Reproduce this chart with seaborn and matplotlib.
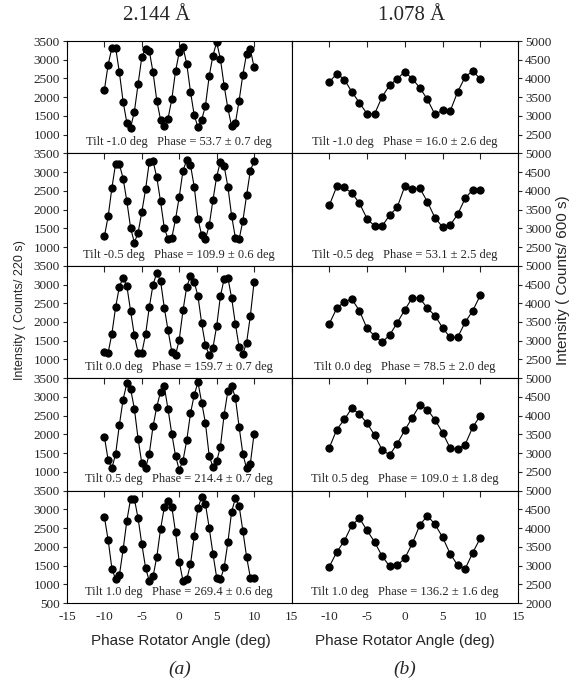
"""Phase rotator scans at five tilts for the 2.144 A and 1.078 A reflections."""
import matplotlib
matplotlib.use("Agg")
import matplotlib.pyplot as plt
import pandas as pd
import seaborn as sns

# rotator angles (deg)
ANGLES_A = [-10.0, -9.5, -9.0, -8.5, -8.0, -7.5, -7.0, -6.5, -6.0, -5.5, -5.0,
            -4.5, -4.0, -3.5, -3.0, -2.5, -2.0, -1.5, -1.0, -0.5, 0.0,
            0.5, 1.0, 1.5, 2.0, 2.5, 3.0, 3.5, 4.0, 4.5, 5.0,
            5.5, 6.0, 6.5, 7.0, 7.5, 8.0, 8.5, 9.0, 9.5, 10.0]
ANGLES_B = [-10, -9, -8, -7, -6, -5, -4, -3, -2, -1, 0,
            1, 2, 3, 4, 5, 6, 7, 8, 9, 10]

# (a) 2.144 A, counts / 220 s
A_TILT_M10 = [2200, 2870, 3320, 3320, 2660, 1880, 1315, 1190, 1610, 2350, 3080,
              3290, 3230, 2660, 1910, 1400, 1230, 1430, 1940, 2690, 3200,
              3340, 2890, 2150, 1520, 1200, 1400, 1770, 2560, 3110, 3470,
              3020, 2300, 1700, 1225, 1310, 1910, 2600, 3160, 3280, 2800]
A_TILT_M05 = [1290, 1820, 2580, 3230, 3210, 2830, 2220, 1510, 1120, 1380, 1940,
              2540, 3280, 3290, 2860, 2220, 1510, 1220, 1240, 1740, 2340,
              3040, 3320, 3190, 2610, 1760, 1310, 1210, 1580, 2250, 2880,
              3280, 3160, 2610, 1830, 1250, 1210, 1700, 2380, 3040, 3290]
A_TILT_000 = [1210, 1180, 1690, 2400, 2940, 3180, 2960, 2290, 1640, 1180, 1180,
              1670, 2400, 3000, 3310, 3100, 2380, 1780, 1210, 1110, 1530,
              2310, 2940, 3220, 3070, 2690, 1960, 1380, 1120, 1310, 1890,
              2690, 3150, 3180, 2640, 1950, 1330, 1150, 1450, 2160, 3070]
A_TILT_P05 = [1930, 1315, 1100, 1480, 2260, 2930, 3370, 3210, 2690, 1880, 1225,
              1090, 1490, 2220, 2740, 3140, 3280, 2670, 2020, 1430, 1050,
              1300, 1840, 2560, 3050, 3390, 2850, 2300, 1430, 1130, 1280,
              1670, 2530, 3160, 3290, 2980, 2200, 1480, 1090, 1220, 2020]
A_TILT_P10 = [2790, 2180, 1420, 1130, 1240, 1930, 2700, 3280, 3280, 2760, 2070,
              1440, 1080, 1210, 1730, 2470, 3050, 3230, 3070, 2400, 1600,
              1090, 1130, 1530, 2290, 3040, 3320, 3140, 2510, 1820, 1180,
              1130, 1450, 2120, 2940, 3290, 3090, 2430, 1730, 1180, 1170]

# (b) 1.078 A, counts / 600 s
B_TILT_M10 = [3900, 4130, 3970, 3640, 3350, 3060, 3050, 3510, 3820, 3990, 4180,
              3990, 3750, 3440, 3040, 3150, 3120, 3640, 4040, 4200, 3990]
B_TILT_M05 = [3610, 4120, 4090, 3940, 3670, 3260, 3060, 3060, 3350, 3560, 4120,
              4050, 4070, 3710, 3280, 3040, 3080, 3370, 3800, 4030, 4030]
B_TILT_000 = [3450, 3870, 4040, 4110, 3800, 3330, 3130, 2960, 3150, 3480, 3820,
              4150, 4130, 3870, 3670, 3350, 3090, 3090, 3490, 3800, 4210]
B_TILT_P05 = [3140, 3630, 3900, 4200, 4040, 3800, 3480, 3090, 2950, 3250, 3610,
              3950, 4280, 4160, 3890, 3550, 3140, 3100, 3230, 3690, 4000]
B_TILT_P10 = [2970, 3360, 3660, 4080, 4260, 3940, 3630, 3250, 2980, 3010, 3190,
              3590, 4080, 4330, 4100, 3760, 3320, 3010, 2910, 3340, 3730]

TILTS = ["-1.0", "-0.5", "0.0", "0.5", "1.0"]
PHASE_A = ["53.7 ± 0.7", "109.9 ± 0.6", "159.7 ± 0.7", "214.4 ± 0.7", "269.4 ± 0.6"]
PHASE_B = ["16.0 ± 2.6", "53.1 ± 2.5", "78.5 ± 2.0", "109.0 ± 1.8", "136.2 ± 1.6"]

X_TICKS = [-15, -10, -5, 0, 5, 10, 15]
X_LABELS_A = ["-15", "-10", "-5", "0", "5", "10", "15"]
# right column's -15 sits under the left column's 15, so it is left blank
X_LABELS_B = ["", "-10", "-5", "0", "5", "10", "15"]

SERIF = "Liberation Serif"
SANS = "Liberation Sans"

sns.set_style("ticks")
plt.rcParams["font.family"] = [SERIF, "DejaVu Serif"]
plt.rcParams["axes.unicode_minus"] = False
plt.rcParams["axes.linewidth"] = 0.8

fig = plt.figure(figsize=(5.76, 6.84), dpi=100, facecolor="white")

W, H = 576.0, 684.0
row_h = 112.4 / H
bottom0 = 1 - 603.0 / H
left_a, width_a = 67.0 / W, (291.5 - 67.0) / W
left_b, width_b = 291.5 / W, (518.0 - 291.5) / W

series_a = [A_TILT_M10, A_TILT_M05, A_TILT_000, A_TILT_P05, A_TILT_P10]
series_b = [B_TILT_M10, B_TILT_M05, B_TILT_000, B_TILT_P05, B_TILT_P10]


def draw_panel(ax, angles, counts, note, ylim, yticks, xlabels, last_row, right_side):
    df = pd.DataFrame({"angle": angles, "counts": counts})
    sns.lineplot(data=df, x="angle", y="counts", ax=ax, color="black",
                 linewidth=0.8, marker="o", markersize=5.2,
                 markeredgecolor="black", markerfacecolor="black",
                 errorbar=None)
    ax.set_xlim(-15, 15)
    ax.set_ylim(*ylim)
    ax.set_xticks(X_TICKS)
    ax.set_xticklabels(xlabels)
    ax.set_yticks(yticks)
    ax.set_yticklabels([str(t) for t in yticks])
    ax.set_xlabel("")
    ax.set_ylabel("")
    ax.tick_params(axis="x", top=True, bottom=False, direction="in", length=4.5,
                   width=0.8, labelbottom=last_row, labeltop=False,
                   labelsize=9.5, pad=6)
    if right_side:
        ax.yaxis.tick_right()
    ax.tick_params(axis="y", direction="out", length=3, width=0.8,
                   labelsize=9.5, pad=2)
    for s in ax.spines.values():
        s.set_color("black")
        s.set_linewidth(0.8)
    ax.text(0.5, 0.1, note, transform=ax.transAxes, ha="center", va="center",
            fontsize=9, family=SERIF)


for i in range(5):
    bottom = bottom0 + (4 - i) * row_h
    last = i == 4
    ax_a = fig.add_axes([left_a, bottom, width_a, row_h])
    ticks_a = [500, 1000, 1500, 2000, 2500, 3000, 3500] if last else [1000, 1500, 2000, 2500, 3000, 3500]
    draw_panel(ax_a, ANGLES_A, series_a[i],
               f"Tilt {TILTS[i]} deg   Phase = {PHASE_A[i]} deg",
               (500, 3500), ticks_a, X_LABELS_A, last, False)
    ax_b = fig.add_axes([left_b, bottom, width_b, row_h])
    ticks_b = [2000, 2500, 3000, 3500, 4000, 4500, 5000] if last else [2500, 3000, 3500, 4000, 4500, 5000]
    draw_panel(ax_b, ANGLES_B, series_b[i],
               f"Tilt {TILTS[i]} deg   Phase = {PHASE_B[i]} deg",
               (2000, 5000), ticks_b, X_LABELS_B, last, True)

# column titles
fig.text(157 / W, 1 - 15 / H, "2.144 Å", ha="center", va="center", fontsize=15, family=SERIF)
fig.text(412 / W, 1 - 15 / H, "1.078 Å", ha="center", va="center", fontsize=15, family=SERIF)

# axis labels
fig.text(180.5 / W, 1 - 641 / H, "Phase Rotator Angle (deg)", ha="center", va="center",
         fontsize=11, family=SANS)
fig.text(405 / W, 1 - 641 / H, "Phase Rotator Angle (deg)", ha="center", va="center",
         fontsize=11, family=SANS)
fig.text(20 / W, 1 - 310 / H, "Intensity ( Counts/ 220 s)", rotation=90, ha="center",
         va="center", fontsize=9, family=SANS)
fig.text(563 / W, 1 - 280 / H, "Intensity ( Counts/ 600 s)", rotation=90, ha="center",
         va="center", fontsize=11, family=SANS)

# panel letters
fig.text(180 / W, 1 - 669 / H, "(a)", ha="center", va="center", fontsize=14,
         style="italic", family=SERIF)
fig.text(405 / W, 1 - 669 / H, "(b)", ha="center", va="center", fontsize=14,
         style="italic", family=SERIF)

fig.savefig("out.png", dpi=100, facecolor="white")
plt.close(fig)
